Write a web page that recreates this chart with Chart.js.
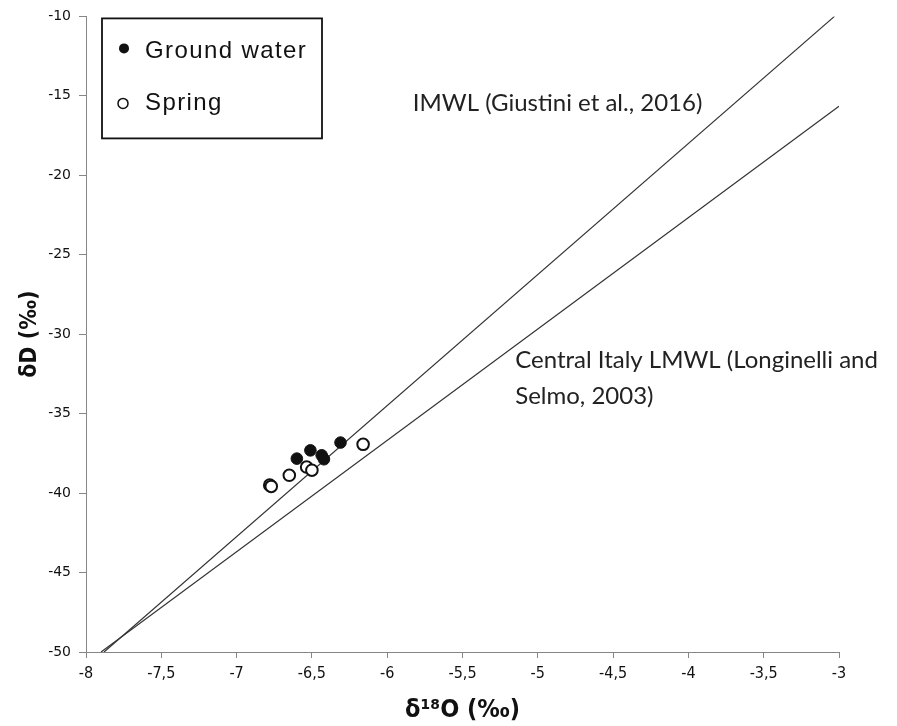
<!DOCTYPE html>
<html>
<head>
<meta charset="utf-8">
<script src="https://cdn.jsdelivr.net/npm/chart.js@4.4.1/dist/chart.umd.min.js"></script>
<style>
    html, body { margin: 0; padding: 0; background: #fff; }
    #wrap { width: 897px; height: 726px; }
</style>
</head>
<body>
<div id="wrap"><canvas id="isoChart" width="897" height="726"></canvas></div>
<script>
// Axis limits
const xMin = -8, xMax = -3, xStep = 0.5;
const yMin = -50, yMax = -10, yStep = 5;

// Ground water samples
const groundX = [-6.60, -6.51, -6.435, -6.42, -6.31];
const groundY = [-37.83, -37.31, -37.62, -37.87, -36.82];

// Spring samples
const springX = [-6.78, -6.77, -6.65, -6.535, -6.50, -6.16];
const springY = [-39.50, -39.58, -38.88, -38.36, -38.56, -36.93];

// Meteoric water lines (end points)
const imwlX = [-7.88, -3.03];
const imwlY = [-50, -10];
const lmwlX = [-7.90, -3.0];
const lmwlY = [-50, -15.65];

// Legend entries and line labels
const legendLabels = ['Ground water', 'Spring'];
const lineLabels = ['IMWL (Giustini et al., 2016)', 'Central Italy LMWL (Longinelli and', 'Selmo, 2003)'];

const AXIS_GREY = '#868686';
const NARROW = "'Liberation Sans Narrow', 'DejaVu Sans Condensed', sans-serif";

function toPoints(xs, ys) {
    return xs.map((x, i) => ({ x: x, y: ys[i] }));
}

function fmtComma(v) {
    return (Math.round(v * 10) / 10).toString().replace('.', ',');
}

/**
 * Legend box and line labels, drawn over the plot
 */
const overlayPlugin = {
    id: 'overlay',
    afterDatasetsDraw(chart) {
        const ctx = chart.ctx;
        const area = chart.chartArea;
        const xs = chart.scales.x;
        const ys = chart.scales.y;

        ctx.save();

        // line labels, anchored in data units
        const anchors = [
            { x: -5.83, y: -15.96 },
            { x: -5.15, y: -32.1 },
            { x: -5.15, y: -34.42 }
        ];
        ctx.fillStyle = '#222';
        ctx.font = '24px Lato, sans-serif';
        ctx.textAlign = 'left';
        ctx.textBaseline = 'alphabetic';
        lineLabels.forEach((t, i) => {
            ctx.fillText(t, xs.getPixelForValue(anchors[i].x), ys.getPixelForValue(anchors[i].y));
        });

        // legend box
        const bx = area.left + 16;
        const by = area.top + 2;
        ctx.lineWidth = 1.8;
        ctx.strokeStyle = '#111';
        ctx.fillStyle = '#fff';
        ctx.fillRect(bx, by, 220, 120);
        ctx.strokeRect(bx, by, 220, 120);

        ctx.fillStyle = '#111';
        ctx.beginPath();
        ctx.arc(bx + 22, by + 30, 5, 0, Math.PI * 2);
        ctx.fill();

        ctx.lineWidth = 1.5;
        ctx.beginPath();
        ctx.arc(bx + 21, by + 85, 5, 0, Math.PI * 2);
        ctx.stroke();

        ctx.font = '24px "Liberation Sans", Arial, sans-serif';
        ctx.letterSpacing = '1.4px';
        ctx.fillText(legendLabels[0], bx + 43, by + 40);
        ctx.fillText(legendLabels[1], bx + 43, by + 92);

        ctx.restore();
    }
};

const ctx = document.getElementById('isoChart').getContext('2d');

const isoChart = new Chart(ctx, {
    type: 'scatter',
    data: {
        datasets: [
            {
                label: 'Ground water',
                data: toPoints(groundX, groundY),
                pointRadius: 5.8,
                pointBackgroundColor: '#111',
                pointBorderColor: '#111',
                pointBorderWidth: 1
            },
            {
                label: 'Spring',
                data: toPoints(springX, springY),
                pointRadius: 5.8,
                pointBackgroundColor: '#fff',
                pointBorderColor: '#111',
                pointBorderWidth: 2
            },
            {
                label: 'IMWL',
                data: toPoints(imwlX, imwlY),
                showLine: true,
                pointRadius: 0,
                borderColor: '#333',
                borderWidth: 1.2,
                fill: false
            },
            {
                label: 'LMWL',
                data: toPoints(lmwlX, lmwlY),
                showLine: true,
                pointRadius: 0,
                borderColor: '#333',
                borderWidth: 1.2,
                fill: false
            }
        ]
    },
    options: {
        responsive: false,
        animation: false,
        devicePixelRatio: 1,
        layout: {
            padding: { top: 15, right: 58, left: 0, bottom: 0 }
        },
        plugins: {
            legend: { display: false },
            tooltip: { enabled: false }
        },
        scales: {
            x: {
                type: 'linear',
                min: xMin,
                max: xMax,
                ticks: {
                    stepSize: xStep,
                    callback: fmtComma,
                    color: '#111',
                    font: { family: NARROW, size: 16 },
                    padding: 6,
                    maxRotation: 0,
                    autoSkip: false
                },
                grid: {
                    drawOnChartArea: false,
                    drawTicks: true,
                    tickLength: 6,
                    color: AXIS_GREY
                },
                border: { color: AXIS_GREY, width: 1 },
                title: {
                    display: true,
                    text: 'δ¹⁸O (‰)',
                    color: '#111',
                    font: { family: NARROW, size: 25, weight: 'bold' },
                    padding: { top: 0, bottom: 1 }
                },
                afterFit(scale) {
                    scale.height = 74;
                }
            },
            y: {
                type: 'linear',
                min: yMin,
                max: yMax,
                ticks: {
                    stepSize: yStep,
                    color: '#111',
                    font: { family: "'DejaVu Sans', sans-serif", size: 14 },
                    padding: 8
                },
                grid: {
                    drawOnChartArea: false,
                    drawTicks: true,
                    tickLength: 7,
                    color: AXIS_GREY
                },
                border: { color: AXIS_GREY, width: 1 },
                title: {
                    display: true,
                    text: 'δD (‰)',
                    color: '#111',
                    font: { family: NARROW, size: 23, weight: 'bold' },
                    padding: { top: 16, bottom: 0 }
                },
                afterFit(scale) {
                    scale.width = 86;
                }
            }
        }
    },
    plugins: [overlayPlugin]
});
</script>
</body>
</html>
